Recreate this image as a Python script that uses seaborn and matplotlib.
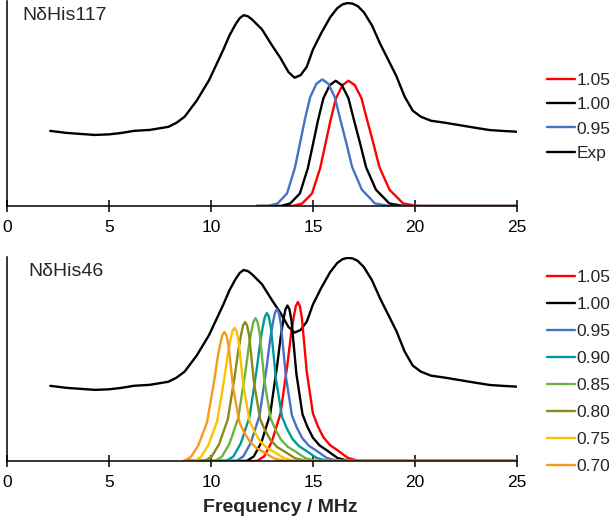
import numpy as np
import pandas as pd
import seaborn as sns
import matplotlib.pyplot as plt

sns.set_style('white')
plt.rcParams['font.family'] = ['Liberation Sans', 'DejaVu Sans']

# experimental spectrum (same trace in both panels)
exp_freq = [2.1, 2.9, 3.6, 4.3, 5.0, 5.6, 6.2, 7.0, 7.9, 8.3, 8.7, 9.3, 9.9,
            10.6, 10.9, 11.2, 11.4, 11.6, 11.8, 12.0, 12.5, 13.0, 13.4, 13.8,
            14.1, 14.4, 14.7, 15.0, 15.4, 15.85, 16.2, 16.45, 16.7, 16.95,
            17.2, 17.5, 17.9, 18.3, 18.7, 19.1, 19.5, 19.9, 20.3, 20.8, 21.5,
            22.1, 23.0, 23.7, 24.3, 25.0]
exp_int = [0.37, 0.36, 0.355, 0.35, 0.353, 0.36, 0.37, 0.375, 0.39, 0.41, 0.44,
           0.52, 0.62, 0.77, 0.84, 0.895, 0.925, 0.94, 0.935, 0.92, 0.87, 0.79,
           0.73, 0.66, 0.632, 0.645, 0.686, 0.77, 0.85, 0.93, 0.975, 0.993,
           1.0, 0.997, 0.985, 0.955, 0.89, 0.80, 0.72, 0.64, 0.54, 0.47, 0.44,
           0.42, 0.41, 0.40, 0.385, 0.374, 0.37, 0.366]

# line shape of the simulated peaks, read off the 0.95 (top) / 0.70 (bottom) curves
shape_top_dx = [-2.5, -2.07, -1.63, -1.27, -1.05, -0.81, -0.56, -0.27, 0, 0.28,
                0.58, 0.84, 1.11, 1.38, 1.83, 2.44, 3.1]
shape_top_y = [0, 0.02, 0.10, 0.30, 0.48, 0.68, 0.86, 0.965, 1, 0.965, 0.86,
               0.68, 0.50, 0.31, 0.13, 0.02, 0]
shape_bot_dx = [-2.0, -1.65, -1.28, -0.85, -0.5, -0.33, -0.21, -0.1, 0, 0.1,
                0.2, 0.44, 0.74, 0.98, 1.25, 1.58, 1.92, 2.45, 3.0]
shape_bot_y = [0, 0.03, 0.12, 0.30, 0.62, 0.80, 0.90, 0.975, 1.0, 0.975,
               0.9, 0.56, 0.30, 0.22, 0.15, 0.10, 0.07, 0.02, 0]

# NdHis117 simulations
top_labels = ['1.05', '1.00', '0.95']
top_center = [16.75, 16.12, 15.46]
top_height = [0.617, 0.617, 0.624]
top_width = [1.1, 1.08, 1.06]
top_start = 12.24

# NdHis46 simulations
bot_labels = ['1.05', '1.00', '0.95', '0.90', '0.85', '0.80', '0.75', '0.70']
bot_center = [14.26, 13.75, 13.23, 12.74, 12.18, 11.67, 11.15, 10.65]
bot_height = [0.782, 0.765, 0.747, 0.728, 0.703, 0.684, 0.656, 0.635]
bot_width = [1.0, 1.0, 1.0, 1.0, 1.0, 1.0, 1.0, 1.0]
bot_start = 8.72
freq_end = 25.0

colors = {'1.05': '#FF0000', '1.00': '#000000', '0.95': '#4472C4',
          '0.90': '#00989A', '0.85': '#6DB33F', '0.80': '#8A8A16',
          '0.75': '#FFC000', '0.70': '#F59B1B', 'Exp': '#000000'}


def peak_table(labels, center, height, width, dx, shape, start):
    rows = []
    for lab, c, h, w in zip(labels, center, height, width):
        xs = [start] + [c + w * d for d in dx] + [freq_end]
        ys = [0] + [h * s for s in shape] + [0]
        for x, y in zip(xs, ys):
            rows.append({'freq': x, 'int': y, 'series': lab})
    return pd.DataFrame(rows)


exp_df = pd.DataFrame({'freq': exp_freq, 'int': exp_int})
top_df = peak_table(top_labels, top_center, top_height, top_width,
                    shape_top_dx, shape_top_y, top_start)
bot_df = peak_table(bot_labels, bot_center, bot_height, bot_width,
                    shape_bot_dx, shape_bot_y, bot_start)

fig = plt.figure(figsize=(6.11, 5.24), dpi=100)
ax1 = fig.add_axes([7.5 / 611, 318 / 524, 509 / 611, 205 / 524])
ax2 = fig.add_axes([7.5 / 611, 63 / 524, 509 / 611, 204 / 524])

lw = 1.7
# top panel
for lab in top_labels:
    d = top_df[top_df['series'] == lab]
    sns.lineplot(x=d['freq'], y=d['int'], color=colors[lab], lw=lw,
                 label=lab, sort=False, ax=ax1)
sns.lineplot(x=exp_df['freq'], y=exp_df['int'], color='black', lw=lw,
             label='Exp', sort=False, ax=ax1)
ax1.set(ylim=(0, 1.01))

# bottom panel
sns.lineplot(x=exp_df['freq'], y=exp_df['int'], color='black', lw=lw,
             label='_nolegend_', sort=False, ax=ax2)
for lab in bot_labels:
    d = bot_df[bot_df['series'] == lab]
    sns.lineplot(x=d['freq'], y=d['int'], color=colors[lab], lw=lw,
                 label=lab, sort=False, ax=ax2)
ax2.set(ylim=(0, 1.004))

for ax in (ax1, ax2):
    ax.set_xlim(0, 25)
    ax.set_xticks(range(0, 26, 5))
    ax.set_yticks([])
    ax.set(xlabel=None, ylabel=None)
    for s in ['top', 'right']:
        ax.spines[s].set_visible(False)
    for s in ['left', 'bottom']:
        ax.spines[s].set_color('black')
        ax.spines[s].set_linewidth(1.1)
    ax.tick_params(axis='x', direction='inout', length=8, width=1.1,
                   labelsize=12.5, pad=6, colors='black', bottom=True)

ax1.legend(loc='upper left', bbox_to_anchor=(547 / 611, 1 - 73 / 524),
           bbox_transform=fig.transFigure, frameon=False, fontsize=12.5,
           handlelength=1.6, handletextpad=0.1, borderpad=0, borderaxespad=0,
           labelspacing=0.52)
ax2.legend(loc='upper left', bbox_to_anchor=(547 / 611, 1 - 270 / 524),
           bbox_transform=fig.transFigure, frameon=False, fontsize=12.5,
           handlelength=1.6, handletextpad=0.1, borderpad=0, borderaxespad=0,
           labelspacing=0.68)

fig.text(22 / 611, 1 - 20.5 / 524, 'NδHis117', fontsize=14, va='baseline')
fig.text(28 / 611, 1 - 276 / 524, 'NδHis46', fontsize=14, va='baseline')
fig.text(280 / 611, 1 - 507 / 524, 'Frequency / MHz', fontsize=14,
         fontweight='bold', ha='center', va='center')

fig.savefig('out.png', dpi=100)
